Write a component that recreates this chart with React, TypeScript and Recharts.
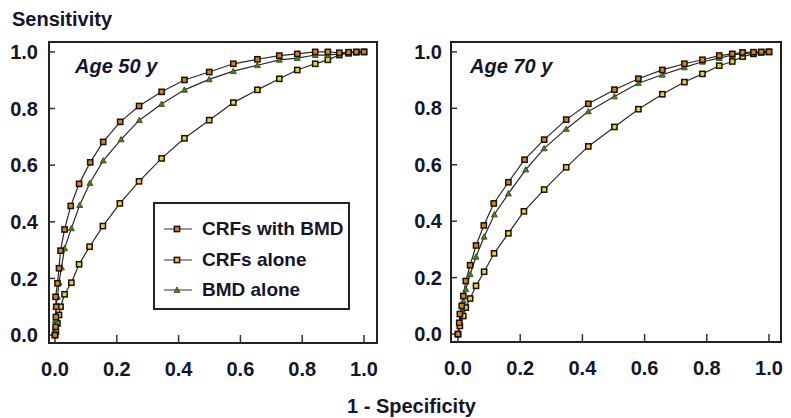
import React from 'react';
import { LineChart, Line, XAxis, YAxis, ReferenceArea } from 'recharts';

// ---------- data ----------
const xTicks = [0, 0.2, 0.4, 0.6, 0.8, 1.0];
const yTicks = [0, 0.2, 0.4, 0.6, 0.8, 1.0];
const seriesNames = ['CRFs with BMD', 'CRFs alone', 'BMD alone'];
const panelTitles = ['Age 50 y', 'Age 70 y'];

const age50CrfBmd = [
  { x: 0, y: 0 }, { x: 0.002, y: 0.029 }, { x: 0.003, y: 0.064 }, { x: 0.004, y: 0.1 },
  { x: 0.002, y: 0.135 }, { x: 0.008, y: 0.183 }, { x: 0.013, y: 0.236 }, { x: 0.018, y: 0.298 },
  { x: 0.031, y: 0.373 }, { x: 0.051, y: 0.456 }, { x: 0.078, y: 0.534 }, { x: 0.114, y: 0.61 },
  { x: 0.156, y: 0.682 }, { x: 0.211, y: 0.753 }, { x: 0.272, y: 0.809 }, { x: 0.345, y: 0.859 },
  { x: 0.419, y: 0.901 }, { x: 0.499, y: 0.929 }, { x: 0.577, y: 0.958 }, { x: 0.655, y: 0.974 },
  { x: 0.726, y: 0.987 }, { x: 0.784, y: 0.993 }, { x: 0.842, y: 1.0 }, { x: 0.883, y: 1.0 },
  { x: 0.92, y: 0.997 }, { x: 0.95, y: 0.999 }, { x: 0.975, y: 1.0 }, { x: 1.0, y: 1.0 },
];
const age50BmdAlone = [
  { x: 0, y: 0 }, { x: 0.0, y: 0.011 }, { x: 0.001, y: 0.053 }, { x: 0.003, y: 0.1 },
  { x: 0.008, y: 0.135 }, { x: 0.013, y: 0.185 }, { x: 0.021, y: 0.239 }, { x: 0.031, y: 0.306 },
  { x: 0.053, y: 0.377 }, { x: 0.08, y: 0.459 }, { x: 0.113, y: 0.537 }, { x: 0.156, y: 0.616 },
  { x: 0.214, y: 0.691 }, { x: 0.273, y: 0.759 }, { x: 0.345, y: 0.816 }, { x: 0.419, y: 0.866 },
  { x: 0.499, y: 0.903 }, { x: 0.577, y: 0.932 }, { x: 0.655, y: 0.953 }, { x: 0.726, y: 0.972 },
  { x: 0.784, y: 0.978 }, { x: 0.842, y: 0.989 }, { x: 0.883, y: 0.989 }, { x: 0.92, y: 0.993 },
  { x: 0.95, y: 0.997 }, { x: 0.975, y: 0.999 }, { x: 1.0, y: 1.0 },
];
const age50CrfAlone = [
  { x: 0, y: 0 }, { x: 0.003, y: 0.012 }, { x: 0.008, y: 0.041 }, { x: 0.013, y: 0.071 },
  { x: 0.018, y: 0.1 }, { x: 0.031, y: 0.144 }, { x: 0.053, y: 0.185 }, { x: 0.078, y: 0.25 },
  { x: 0.112, y: 0.312 }, { x: 0.155, y: 0.385 }, { x: 0.21, y: 0.465 }, { x: 0.272, y: 0.543 },
  { x: 0.345, y: 0.624 }, { x: 0.419, y: 0.695 }, { x: 0.499, y: 0.759 }, { x: 0.577, y: 0.821 },
  { x: 0.655, y: 0.866 }, { x: 0.726, y: 0.905 }, { x: 0.784, y: 0.936 }, { x: 0.842, y: 0.958 },
  { x: 0.883, y: 0.972 }, { x: 0.92, y: 0.989 }, { x: 0.95, y: 0.995 }, { x: 0.975, y: 0.999 },
  { x: 1.0, y: 1.0 },
];

const age70CrfBmd = [
  { x: 0, y: 0 }, { x: 0.004, y: 0.04 }, { x: 0.006, y: 0.071 }, { x: 0.012, y: 0.1 },
  { x: 0.017, y: 0.135 }, { x: 0.025, y: 0.188 }, { x: 0.039, y: 0.244 }, { x: 0.058, y: 0.314 },
  { x: 0.083, y: 0.385 }, { x: 0.115, y: 0.463 }, { x: 0.162, y: 0.538 }, { x: 0.214, y: 0.618 },
  { x: 0.277, y: 0.689 }, { x: 0.348, y: 0.76 }, { x: 0.419, y: 0.816 }, { x: 0.503, y: 0.866 },
  { x: 0.58, y: 0.905 }, { x: 0.657, y: 0.936 }, { x: 0.728, y: 0.958 }, { x: 0.786, y: 0.972 },
  { x: 0.84, y: 0.987 }, { x: 0.882, y: 0.993 }, { x: 0.915, y: 0.998 }, { x: 0.95, y: 0.999 },
  { x: 0.975, y: 1.0 }, { x: 1.0, y: 1.0 },
];
const age70BmdAlone = [
  { x: 0, y: 0 }, { x: 0.006, y: 0.04 }, { x: 0.012, y: 0.083 }, { x: 0.017, y: 0.118 },
  { x: 0.025, y: 0.159 }, { x: 0.039, y: 0.212 }, { x: 0.058, y: 0.274 }, { x: 0.084, y: 0.345 },
  { x: 0.117, y: 0.424 }, { x: 0.162, y: 0.498 }, { x: 0.218, y: 0.583 }, { x: 0.277, y: 0.658 },
  { x: 0.348, y: 0.727 }, { x: 0.419, y: 0.789 }, { x: 0.503, y: 0.842 }, { x: 0.58, y: 0.889 },
  { x: 0.657, y: 0.919 }, { x: 0.728, y: 0.945 }, { x: 0.786, y: 0.965 }, { x: 0.84, y: 0.978 },
  { x: 0.882, y: 0.989 }, { x: 0.915, y: 0.993 }, { x: 0.95, y: 0.997 }, { x: 0.975, y: 0.999 },
  { x: 1.0, y: 1.0 },
];
const age70CrfAlone = [
  { x: 0, y: 0 }, { x: 0.006, y: 0.029 }, { x: 0.017, y: 0.064 }, { x: 0.025, y: 0.094 },
  { x: 0.039, y: 0.126 }, { x: 0.058, y: 0.171 }, { x: 0.084, y: 0.221 }, { x: 0.116, y: 0.286 },
  { x: 0.162, y: 0.357 }, { x: 0.212, y: 0.435 }, { x: 0.277, y: 0.512 }, { x: 0.348, y: 0.591 },
  { x: 0.419, y: 0.665 }, { x: 0.503, y: 0.734 }, { x: 0.58, y: 0.797 }, { x: 0.657, y: 0.85 },
  { x: 0.728, y: 0.893 }, { x: 0.786, y: 0.922 }, { x: 0.84, y: 0.951 }, { x: 0.882, y: 0.966 },
  { x: 0.915, y: 0.983 }, { x: 0.95, y: 0.993 }, { x: 0.975, y: 0.998 }, { x: 1.0, y: 1.0 },
];

// ---------- styling ----------
const FONT = '"Liberation Sans", Arial, Helvetica, sans-serif';
const TEXT = '#15152a';
const ORANGE = '#e08400';
const YELLOW = '#f3d21a';
const GREEN = '#4d7d1f';
const LINE = '#2a2a2a';

const Square = ({ cx, cy, fill }: any) => {
  if (cx == null || cy == null) return null;
  return <rect x={cx - 2.6} y={cy - 2.6} width={5.2} height={5.2} fill={fill} stroke="#111" strokeWidth={1.5} />;
};
const Triangle = ({ cx, cy }: any) => {
  if (cx == null || cy == null) return null;
  const s = 3;
  return (
    <polygon
      points={`${cx},${cy - s} ${cx - s},${cy + s * 0.8} ${cx + s},${cy + s * 0.8}`}
      fill={GREEN}
      stroke="#2b4512"
      strokeWidth={0.8}
    />
  );
};

const tickStyle = { fontFamily: FONT, fontWeight: 700, fontSize: 20, fill: TEXT };

type PanelProps = {
  left: number;
  width: number;
  yAxisWidth: number;
  marginRight: number;
  xAxisHeight: number;
  xDomain: [number, number];
  yTickMargin: number;
  crfBmd: { x: number; y: number }[];
  crfAlone: { x: number; y: number }[];
  bmdAlone: { x: number; y: number }[];
};

const Panel = (p: PanelProps) => {
  const yDomain: [number, number] = [-0.028, 1.035];
  return (
    <div style={{ position: 'absolute', left: p.left, top: 0 }}>
      <LineChart
        width={p.width}
        height={418}
        margin={{ top: 42, right: p.marginRight, left: 0, bottom: 0 }}
      >
        <XAxis
          type="number"
          dataKey="x"
          domain={p.xDomain}
          ticks={xTicks}
          allowDataOverflow
          height={p.xAxisHeight}
          axisLine={false}
          tickLine={{ stroke: '#333', strokeWidth: 1.5 }}
          tickSize={-8}
          tickMargin={27}
          tick={tickStyle}
          tickFormatter={(v: number) => v.toFixed(1)}
        />
        <YAxis
          type="number"
          dataKey="y"
          domain={yDomain}
          ticks={yTicks}
          allowDataOverflow
          width={p.yAxisWidth}
          axisLine={false}
          tickLine={{ stroke: '#333', strokeWidth: 1.5 }}
          tickSize={-6}
          tickMargin={p.yTickMargin}
          tick={tickStyle}
          tickFormatter={(v: number) => v.toFixed(1)}
        />
        <ReferenceArea
          x1={p.xDomain[0]}
          x2={p.xDomain[1]}
          y1={yDomain[0]}
          y2={yDomain[1]}
          fill="none"
          stroke="#222"
          strokeWidth={2}
          ifOverflow="visible"
        />
        <Line
          data={p.crfAlone}
          dataKey="y"
          name={seriesNames[1]}
          type="linear"
          stroke={LINE}
          strokeWidth={1.2}
          isAnimationActive={false}
          dot={(d: any) => <Square key={`ca-${d.index}`} cx={d.cx} cy={d.cy} fill={YELLOW} />}
        />
        <Line
          data={p.bmdAlone}
          dataKey="y"
          name={seriesNames[2]}
          type="linear"
          stroke={LINE}
          strokeWidth={1.2}
          isAnimationActive={false}
          dot={(d: any) => <Triangle key={`ba-${d.index}`} cx={d.cx} cy={d.cy} />}
        />
        <Line
          data={p.crfBmd}
          dataKey="y"
          name={seriesNames[0]}
          type="linear"
          stroke={LINE}
          strokeWidth={1.2}
          isAnimationActive={false}
          dot={(d: any) => <Square key={`cb-${d.index}`} cx={d.cx} cy={d.cy} fill={ORANGE} />}
        />
      </LineChart>
    </div>
  );
};

const LegendIcon = ({ kind }: { kind: number }) => (
  <svg width={30} height={12} style={{ display: 'block' }}>
    <line x1={1} y1={6} x2={29} y2={6} stroke="#777" strokeWidth={1.5} />
    {kind === 2 ? (
      <Triangle cx={14} cy={6} />
    ) : (
      <Square cx={14} cy={6} fill={kind === 0 ? ORANGE : YELLOW} />
    )}
  </svg>
);

const textBase: React.CSSProperties = {
  position: 'absolute',
  fontFamily: FONT,
  fontWeight: 700,
  fontSize: 20,
  color: TEXT,
  whiteSpace: 'nowrap',
  lineHeight: '20px',
};

export default function App() {
  return (
    <div style={{ position: 'absolute', left: 0, top: 0, width: 791, height: 418, background: '#fff', overflow: 'hidden' }}>
      <Panel
        left={0}
        width={400}
        yAxisWidth={49}
        marginRight={23}
        xAxisHeight={75}
        xDomain={[-0.0194, 1.042]}
        yTickMargin={17}
        crfBmd={age50CrfBmd}
        crfAlone={age50CrfAlone}
        bmdAlone={age50BmdAlone}
      />
      <Panel
        left={400}
        width={391}
        yAxisWidth={51}
        marginRight={10}
        xAxisHeight={76}
        xDomain={[-0.0225, 1.0386]}
        yTickMargin={15}
        crfBmd={age70CrfBmd}
        crfAlone={age70CrfAlone}
        bmdAlone={age70BmdAlone}
      />
      <div style={{ ...textBase, left: 12, top: 9 }}>Sensitivity</div>
      <div style={{ ...textBase, left: 347, top: 396 }}>1 - Specificity</div>
      <div style={{ ...textBase, left: 75, top: 56, fontStyle: 'italic' }}>{panelTitles[0]}</div>
      <div style={{ ...textBase, left: 470, top: 56, fontStyle: 'italic' }}>{panelTitles[1]}</div>
      <div
        style={{
          position: 'absolute',
          left: 153,
          top: 202,
          width: 197,
          height: 108,
          boxSizing: 'border-box',
          border: '2px solid #222',
          background: '#fff',
        }}
      >
        {seriesNames.map((n, i) => (
          <div
            key={n}
            style={{
              position: 'absolute',
              left: 8,
              top: 15 + i * 30.5,
              display: 'flex',
              alignItems: 'center',
              fontFamily: FONT,
              fontWeight: 700,
              fontSize: 19,
              color: TEXT,
              whiteSpace: 'nowrap',
              lineHeight: '20px',
            }}
          >
            <LegendIcon kind={i} />
            <span style={{ marginLeft: 9 }}>{n}</span>
          </div>
        ))}
      </div>
    </div>
  );
}
